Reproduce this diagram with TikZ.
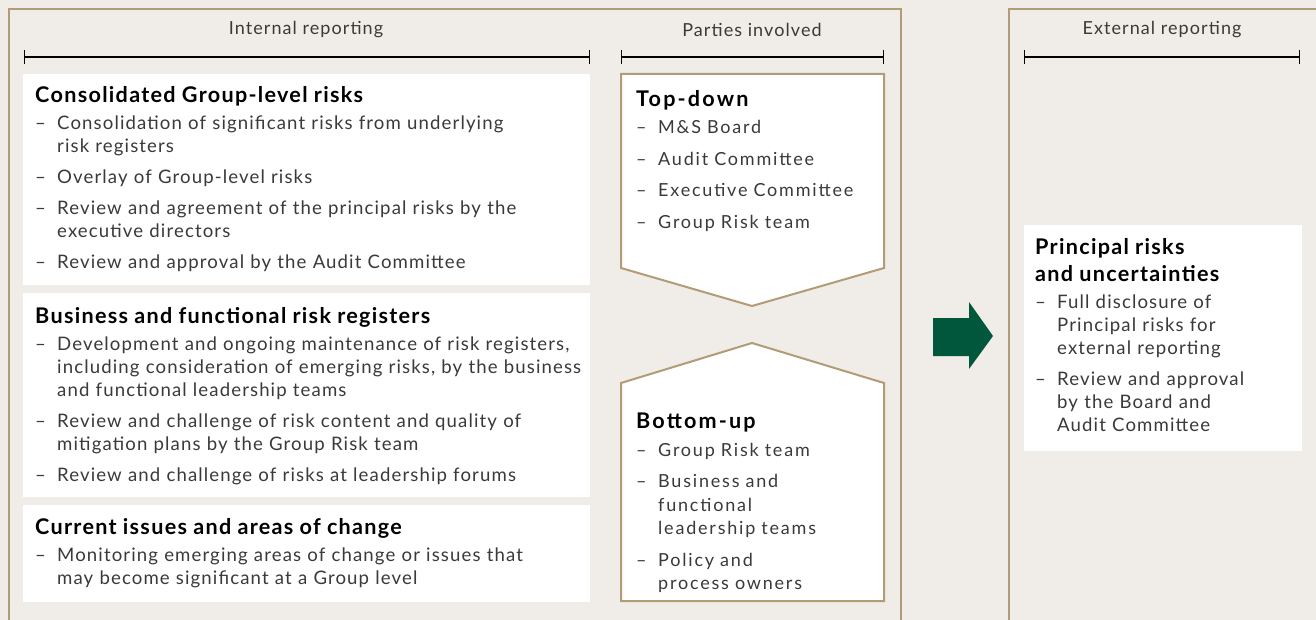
\documentclass[tikz,border=0pt]{standalone}
\usepackage{fontspec}
\setmainfont{Lato}[LetterSpace=6]
\newfontfamily\spacedfont[LetterSpace=10]{Lato}
\usetikzlibrary{arrows.meta}
\definecolor{paper}{HTML}{F0EDE8}
\definecolor{framecol}{HTML}{B29C75}
\definecolor{msgreen}{HTML}{00573B}
\definecolor{bodytext}{HTML}{3A3A3A}
% heading and dash item inside a text block
\newcommand\rhead[1]{{\noindent\fontsize{21.6}{27}\selectfont\bfseries\color{black}#1\par}\vspace{-4pt}}
\newcommand\ritem[1]{\par\vspace{8pt}\hangindent=22pt\hangafter=1\noindent\makebox[22pt][l]{\textendash}#1}
\begin{document}
\begin{tikzpicture}[x=1pt, y=-1pt,
  panel/.style={draw=framecol, line width=2.5pt},
  bracket/.style={line width=1.4pt, {Bar[width=14pt]}-{Bar[width=14pt]}},
  header/.style={font=\fontsize{18}{22}\selectfont, text=bodytext},
  partybox/.style={draw=framecol, fill=white, line width=2pt},
  textblock/.style={anchor=north west, inner sep=0pt, align=left,
    font=\fontsize{18.6}{23}\selectfont, text=bodytext},
  partytext/.style={textblock, font=\spacedfont\fontsize{18}{23.5}\selectfont}]
\fill [paper] (0,0) rectangle (1316,620);
\useasboundingbox (0,0) rectangle (1316,620);
% panels
\draw [panel] (9,625) -- (9,9) -- (901,9) -- (901,625);
\draw [panel] (1009,625) -- (1009,9) -- (1325,9);
% headers
\node [header] (intlabel) at (306,30) {Internal reporting};
\node [header] (partylabel) at (752,30) {Parties involved};
\node [header] (extlabel) at (1162,30) {External reporting};
\coordinate (intL) at (24,57);
\coordinate (intR) at (590,57);
\coordinate (partyL) at (621,57);
\coordinate (partyR) at (884,57);
\coordinate (extL) at (1024,57);
\coordinate (extR) at (1300,57);
\draw [bracket] (intL) -- (intR);
\draw [bracket] (partyL) -- (partyR);
\draw [bracket] (extL) -- (extR);
% internal reporting boxes
\fill [white] (23,74) rectangle (590,285);
\fill [white] (23,293) rectangle (590,497);
\fill [white] (23,505) rectangle (590,602);
\node [textblock, text width=550pt] (consol) at (35,86) {%
  \rhead{Consolidated Group-level risks}
  \ritem{Consolidation of significant risks from underlying\newline risk registers}
  \ritem{Overlay of Group-level risks}
  \ritem{Review and agreement of the principal risks by the\newline executive directors}
  \ritem{Review and approval by the Audit Committee}\par};
\node [textblock, text width=550pt] (business) at (35,307) {%
  \rhead{Business and functional risk registers}
  \ritem{Development and ongoing maintenance of risk registers,\newline including consideration of emerging risks, by the business\newline and functional leadership teams}
  \ritem{Review and challenge of risk content and quality of\newline mitigation plans by the Group Risk team}
  \ritem{Review and challenge of risks at leadership forums}\par};
\node [textblock, text width=550pt] (current) at (35,518) {%
  \rhead{Current issues and areas of change}
  \ritem{Monitoring emerging areas of change or issues that\newline may become significant at a Group level}\par};
% parties involved
\draw [partybox] (621,74) -- (884,74) -- (884,268) -- (752,306) -- (621,268) -- cycle;
\draw [partybox] (621,601) -- (621,383) -- (752,343) -- (884,383) -- (884,601) -- cycle;
\node [partytext, text width=240pt] (topdown) at (636,90) {%
  \rhead{Top-down}
  \ritem{M\&S Board}
  \ritem{Audit Committee}
  \ritem{Executive Committee}
  \ritem{Group Risk team}\par};
\node [partytext, text width=240pt] (bottomup) at (636,413) {%
  \rhead{Bottom-up}
  \ritem{Group Risk team}
  \ritem{Business and\newline functional\newline leadership teams}
  \ritem{Policy and\newline process owners}\par};
% arrow to external reporting
\fill [msgreen] (933,318) -- (969,318) -- (969,302) -- (993,336) -- (969,369) -- (969,356) -- (933,356) -- cycle;
% external reporting
\fill [white] (1024,225) rectangle (1302,451);
\node [textblock, text width=260pt] (principal) at (1035,238) {%
  \rhead{Principal risks\newline and uncertainties}
  \ritem{Full disclosure of\newline Principal risks for\newline external reporting}
  \ritem{Review and approval\newline by the Board and\newline Audit Committee}\par};
\end{tikzpicture}
\end{document}
